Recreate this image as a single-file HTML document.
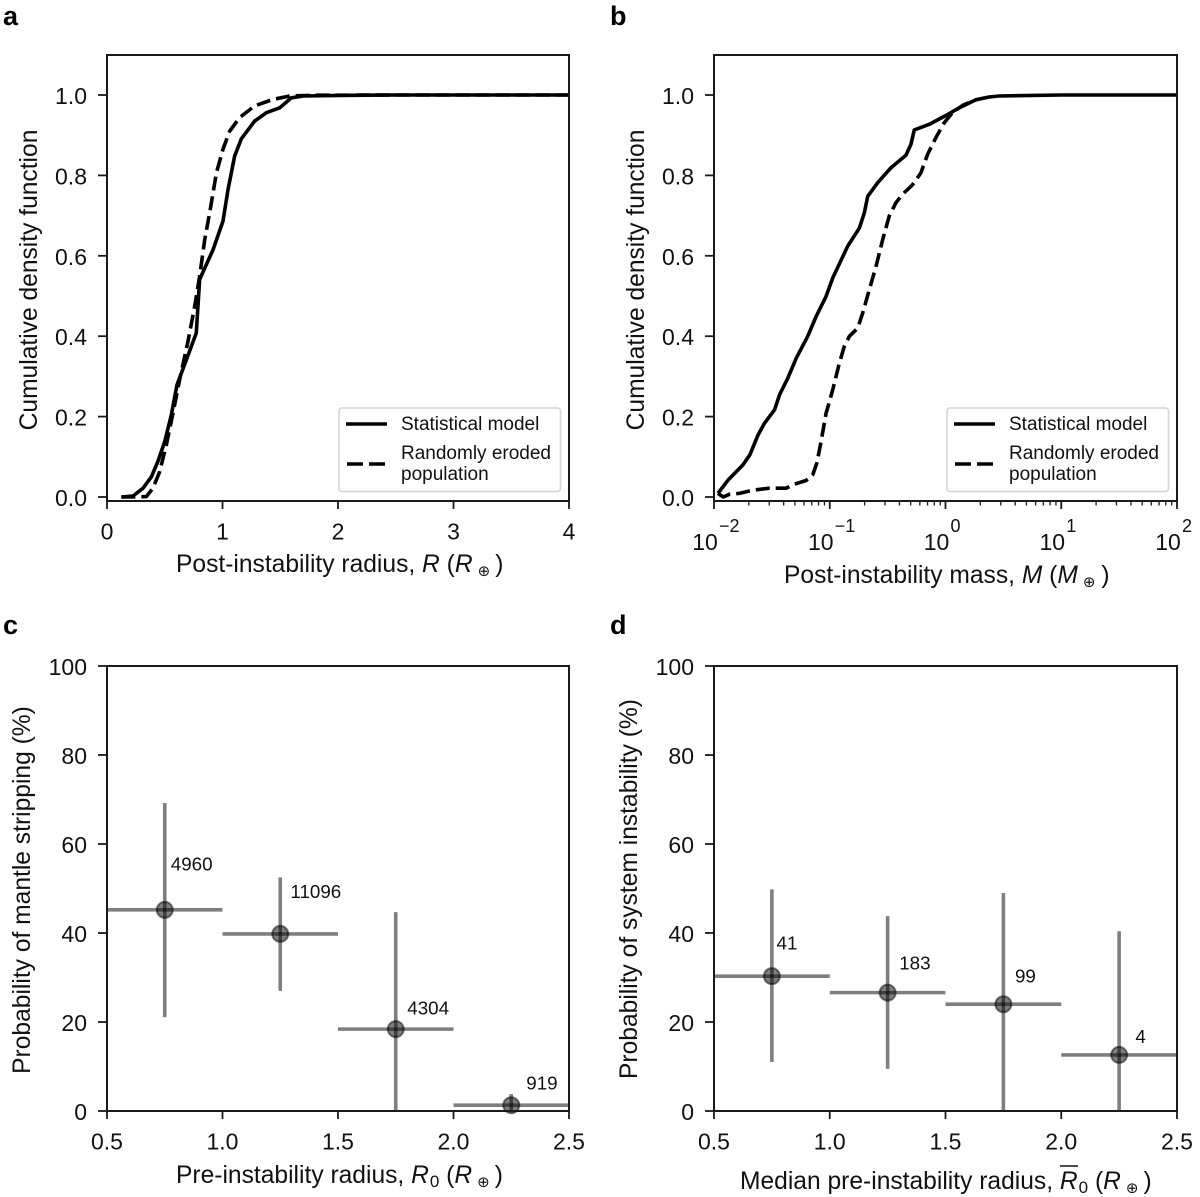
<!DOCTYPE html>
<html>
<head>
<meta charset="utf-8">
<title>Post-instability chart</title>
<style>
html,body{margin:0;padding:0;background:#fff;}
svg{display:block;}
text{font-family:"Liberation Sans","DejaVu Sans",sans-serif;fill:#111;}
.tick{font-size:23px;}
.alabel{font-size:24.6px;}
.leg{font-size:19px;}
.ann{font-size:18.8px;}
.letter{font-size:27px;font-weight:bold;fill:#000;}
.it{font-style:italic;}
</style>
</head>
<body>
<svg id="fig" xmlns="http://www.w3.org/2000/svg" width="1200" height="1197" viewBox="0 0 1200 1197">
<rect x="0" y="0" width="1200" height="1197" fill="#fff"/>
<g id="panel-a"></g>
<g id="panel-b"></g>
<g id="panel-c"></g>
<g id="panel-d"></g>

<text class="letter" x="3" y="25">a</text>
<text class="letter" x="610" y="25">b</text>
<text class="letter" x="3" y="634">c</text>
<text class="letter" x="610" y="634">d</text>

<text class="alabel" x="176" y="572">Post-instability radius, <tspan class="it">R</tspan> (<tspan class="it">R</tspan><tspan font-size="15" dy="4" dx="5" font-family="DejaVu Sans">⊕</tspan><tspan dy="-4" dx="5">)</tspan></text>
<text class="alabel" x="784" y="583">Post-instability mass, <tspan class="it">M</tspan> (<tspan class="it">M</tspan><tspan font-size="15" dy="4" dx="5" font-family="DejaVu Sans">⊕</tspan><tspan dy="-4" dx="6">)</tspan></text>
<text class="alabel" x="176" y="1183">Pre-instability radius, <tspan class="it">R</tspan><tspan font-size="17" dy="4" dx="1">0</tspan><tspan dy="-4"> (</tspan><tspan class="it">R</tspan><tspan font-size="15" dy="4" dx="5" font-family="DejaVu Sans">⊕</tspan><tspan dy="-4" dx="5">)</tspan></text>
<text class="alabel" x="740" y="1189">Median pre-instability radius, <tspan class="it">R</tspan><tspan font-size="17" dy="4" dx="1">0</tspan><tspan dy="-4"> (</tspan><tspan class="it">R</tspan><tspan font-size="15" dy="4" dx="5" font-family="DejaVu Sans">⊕</tspan><tspan dy="-4" dx="5">)</tspan></text>
<line x1="1060" x2="1078" y1="1166" y2="1166" stroke="#111" stroke-width="1.5"/>

<text class="alabel" transform="translate(37,280) rotate(-90)" text-anchor="middle">Cumulative density function</text>
<text class="alabel" transform="translate(644,280) rotate(-90)" text-anchor="middle">Cumulative density function</text>
<text class="alabel" transform="translate(30,890) rotate(-90)" text-anchor="middle">Probability of mantle stripping (%)</text>
<text class="alabel" transform="translate(637,889) rotate(-90)" text-anchor="middle">Probability of system instability (%)</text>

<g>
<rect x="339" y="408" width="221.5" height="83.5" rx="3" fill="#fff" fill-opacity="0.9" stroke="#d4d4d4" stroke-width="1.6"/>
<line x1="346" x2="387" y1="424" y2="424" stroke="#000" stroke-width="3.6"/>
<line x1="347" x2="385" y1="464" y2="464" stroke="#000" stroke-width="3.6" stroke-dasharray="16 6"/>
<text class="leg" x="401" y="430">Statistical model</text>
<text class="leg" x="401" y="459">Randomly eroded</text>
<text class="leg" x="401" y="480">population</text>
</g>
<g>
<rect x="947" y="408" width="221.5" height="83.5" rx="3" fill="#fff" fill-opacity="0.9" stroke="#d4d4d4" stroke-width="1.6"/>
<line x1="954" x2="995" y1="424" y2="424" stroke="#000" stroke-width="3.6"/>
<line x1="955" x2="993" y1="464" y2="464" stroke="#000" stroke-width="3.6" stroke-dasharray="16 6"/>
<text class="leg" x="1009" y="430">Statistical model</text>
<text class="leg" x="1009" y="459">Randomly eroded</text>
<text class="leg" x="1009" y="480">population</text>
</g>
</svg>

<script>
// Panel a: CDF of post-instability radius
const aSolidX = [0.124,0.225,0.312,0.384,0.44,0.5,0.557,0.606,0.687,0.773,0.802,0.918,1.004,1.048,1.105,1.163,1.278,1.38,1.495,1.596,1.7,2.01,2.5,4];
const aSolidY = [0,0.0025,0.022,0.05,0.088,0.138,0.204,0.279,0.341,0.408,0.541,0.615,0.686,0.765,0.848,0.891,0.935,0.956,0.968,0.993,0.9975,0.999,1,1];
const aDashX = [0.124,0.34,0.398,0.456,0.514,0.571,0.629,0.701,0.759,0.802,0.846,0.889,0.947,1.004,1.062,1.149,1.278,1.437,1.582,1.81,2.5,4];
const aDashY = [0,0.001,0.022,0.063,0.13,0.208,0.292,0.387,0.474,0.549,0.64,0.707,0.806,0.865,0.91,0.944,0.973,0.989,0.9975,0.9995,1,1];
const aXTicks = [0,1,2,3,4];

// Panel b: CDF of post-instability mass (x values as log10 of mass)
const bSolidLogX = [-1.966,-1.879,-1.75,-1.69,-1.62,-1.563,-1.477,-1.434,-1.362,-1.29,-1.19,-1.118,-1.032,-0.974,-0.845,-0.744,-0.701,-0.672,-0.586,-0.471,-0.342,-0.299,-0.27,-0.141,0.003,0.118,0.261,0.376,0.463,1,2];
const bSolidY = [0.009,0.042,0.08,0.105,0.154,0.184,0.217,0.254,0.296,0.345,0.4,0.449,0.499,0.545,0.624,0.669,0.707,0.748,0.782,0.819,0.85,0.877,0.913,0.927,0.949,0.968,0.988,0.995,0.9975,1,1];
const bDashLogX = [-1.966,-1.92,-1.865,-1.78,-1.664,-1.52,-1.376,-1.305,-1.204,-1.147,-1.112,-1.075,-1.032,-0.974,-0.917,-0.874,-0.83,-0.759,-0.716,-0.658,-0.6,-0.543,-0.486,-0.428,-0.371,-0.284,-0.213,-0.155,-0.083,-0.011,0.06,0.147,0.233];
const bDashY = [0.009,0,0.007,0.009,0.017,0.022,0.022,0.032,0.041,0.055,0.084,0.138,0.208,0.267,0.333,0.375,0.4,0.42,0.457,0.516,0.574,0.64,0.699,0.732,0.753,0.777,0.806,0.852,0.894,0.931,0.956,0.974,0.985];
const bXDecades = [-2,-1,0,1,2];

// CDF y ticks
const cdfYTicks = [0,0.2,0.4,0.6,0.8,1];

// Panels c and d: binned probabilities
const binLow = [0.5,1,1.5,2];
const binHigh = [1,1.5,2,2.5];
const binX = [0.75,1.25,1.75,2.25];
const cProb = [45.2,39.8,18.4,1.3];
const cErrLow = [21.1,27,0,0];
const cErrHigh = [69.2,52.5,44.7,3.8];
const cCounts = ["4960","11096","4304","919"];
const cNoteDx = [0.026,0.044,0.05,0.065];
const cNoteDy = [10.3,9.5,4.7,5];
const dProb = [30.3,26.6,24,12.6];
const dErrLow = [11,9.5,0,0];
const dErrHigh = [49.8,43.8,49,40.4];
const dCounts = ["41","183","99","4"];
const dNoteDx = [0.02,0.05,0.05,0.07];
const dNoteDy = [7.5,6.7,6.3,4.1];
const probXTicks = [0.5,1,1.5,2,2.5];
const probYTicks = [0,20,40,60,80,100];

const NS = 'http://www.w3.org/2000/svg';
function mk(parent, tag, attrs, txt) {
  const el = document.createElementNS(NS, tag);
  for (const k in attrs) el.setAttribute(k, attrs[k]);
  if (txt !== undefined) el.textContent = txt;
  parent.appendChild(el);
  return el;
}
function scale(d0, d1, p0, p1) {
  return function (v) { return p0 + (v - d0) * (p1 - p0) / (d1 - d0); };
}
const INK = '#1a1a1a';

function frame(g, L, R, T, B) {
  const r = mk(g, 'rect', {x: L, y: T, width: R - L, height: B - T, fill: 'none', stroke: INK, 'stroke-width': 2});
  
  
}
function xTick(g, px, B, len, label) {
  const t = mk(g, 'line', {x1: px, x2: px, y1: B, y2: B + len, stroke: INK, 'stroke-width': len > 5 ? 1.8 : 1.3});
  
  
  if (label !== undefined) {
    const s = mk(g, 'text', {x: px, y: B + 38.5, 'text-anchor': 'middle', 'class': 'tick'}, label);
    
    
  }
}
function yTick(g, py, L, label) {
  const t = mk(g, 'line', {x1: L - 9, x2: L, y1: py, y2: py, stroke: INK, 'stroke-width': 1.8});
  
  
  const s = mk(g, 'text', {x: L - 20, y: py + 9, 'text-anchor': 'end', 'class': 'tick'}, label);
  
  
}
function curve(g, xs, ys, fx, fy, dashed, name) {
  let d = '';
  for (let i = 0; i < xs.length; i++) {
    d += (i ? 'L' : 'M') + fx(xs[i]).toFixed(2) + ' ' + fy(ys[i]).toFixed(2);
  }
  const attrs = {d: d, fill: 'none', stroke: '#000', 'stroke-width': 3.6, 'stroke-linejoin': 'round'};
  if (dashed) attrs['stroke-dasharray'] = '14 6';
  const p = mk(g, 'path', attrs);
  
  
}

function drawCdfA() {
  const g = document.getElementById('panel-a');
  const L = 107, R = 569, T = 55, B = 501;
  const fx = scale(0, 4, L, R), fy = scale(0, 1, 497, 95);
  curve(g, aSolidX, aSolidY, fx, fy, false, 'statistical-model-line');
  curve(g, aDashX, aDashY, fx, fy, true, 'randomly-eroded-line');
  frame(g, L, R, T, B);
  aXTicks.forEach(function (v) { xTick(g, fx(v), B, 8, String(v)); });
  cdfYTicks.forEach(function (v) { yTick(g, fy(v), L, v.toFixed(1)); });
}

function drawCdfB() {
  const g = document.getElementById('panel-b');
  const L = 714, R = 1177, T = 55, B = 501;
  const fx = scale(-2, 2, L, R), fy = scale(0, 1, 497, 95);
  curve(g, bSolidLogX, bSolidY, fx, fy, false, 'statistical-model-line');
  curve(g, bDashLogX, bDashY, fx, fy, true, 'randomly-eroded-line');
  frame(g, L, R, T, B);
  bXDecades.forEach(function (dec) {
    xTick(g, fx(dec), B, 8);
    const m = mk(g, 'text', {x: fx(dec) - 9, y: B + 49, 'text-anchor': 'middle', 'class': 'tick'}, '10');
    
    
    const e = mk(g, 'text', {x: fx(dec) + 5, y: B + 31, 'font-size': 18}, (dec < 0 ? '\u2212' : '') + Math.abs(dec));
    
    
    if (dec < 2) {
      for (let k = 2; k < 10; k++) xTick(g, fx(dec + Math.log10(k)), B, 4.5);
    }
  });
  cdfYTicks.forEach(function (v) { yTick(g, fy(v), L, v.toFixed(1)); });
}

function drawProb(id, L, R, prob, lo, hi, counts, noteDx, noteDy) {
  const g = document.getElementById(id);
  const T = 666, B = 1111;
  const fx = scale(0.5, 2.5, L, R), fy = scale(0, 100, B, T);
  binX.forEach(function (x, i) {
    const pt = mk(g, 'g', {});
    
    
    const v = mk(pt, 'line', {x1: fx(x), x2: fx(x), y1: fy(lo[i]), y2: fy(hi[i]), stroke: '#000', 'stroke-opacity': 0.5, 'stroke-width': 3.6});
    
    
    const h = mk(pt, 'line', {x1: fx(binLow[i]), x2: fx(binHigh[i]), y1: fy(prob[i]), y2: fy(prob[i]), stroke: '#000', 'stroke-opacity': 0.5, 'stroke-width': 3.6});
    
    
    const c = mk(pt, 'circle', {cx: fx(x), cy: fy(prob[i]), r: 8, fill: '#000', 'fill-opacity': 0.5, stroke: '#000', 'stroke-opacity': 0.5, 'stroke-width': 2});
    
    
    const a = mk(pt, 'text', {x: fx(x + noteDx[i]), y: fy(prob[i] + noteDy[i]) + 6.5, 'class': 'ann'}, counts[i]);
    
    
  });
  frame(g, L, R, T, B);
  probXTicks.forEach(function (v) { xTick(g, fx(v), B, 8, v.toFixed(1)); });
  probYTicks.forEach(function (v) { yTick(g, fy(v), L, String(v)); });
}

drawCdfA();
drawCdfB();
drawProb('panel-c', 107, 569, cProb, cErrLow, cErrHigh, cCounts, cNoteDx, cNoteDy);
drawProb('panel-d', 714, 1177, dProb, dErrLow, dErrHigh, dCounts, dNoteDx, dNoteDy);
</script>
</body>
</html>
